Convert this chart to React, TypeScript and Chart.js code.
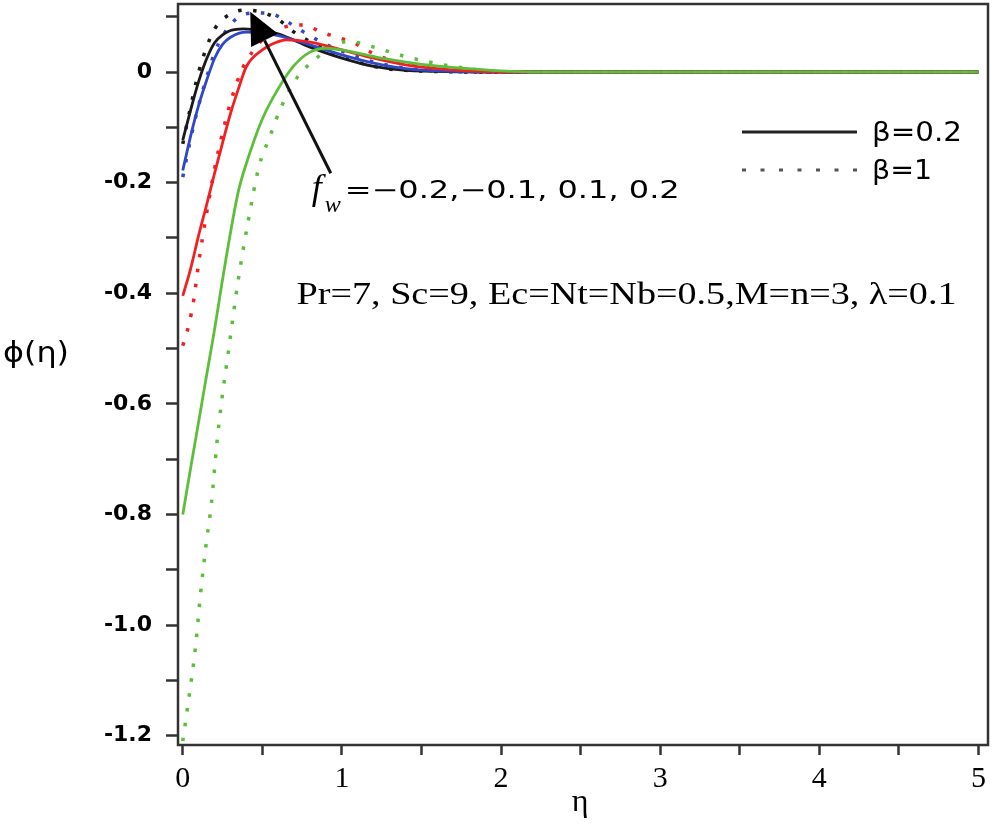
import React, { useEffect, useRef } from "react";
import { Chart, registerables } from "chart.js";

Chart.register(...registerables);

// ---- data: phi(eta) for f_w = -0.2, -0.1, 0.1, 0.2 ; beta = 0.2 (solid) and beta = 1 (dotted)
const etaBlackSolid = [0, 0.05, 0.1, 0.15, 0.2, 0.25, 0.3, 0.38, 0.5, 0.6, 0.8, 1.0, 1.2, 1.4, 2, 3, 4, 5];
const phiBlackSolid = [-0.123, -0.068, -0.017, 0.024, 0.053, 0.067, 0.075, 0.078, 0.075, 0.069, 0.045, 0.025, 0.01, 0.003, 0, 0, 0, 0];

const etaBlackDotted = [0, 0.05, 0.1, 0.15, 0.2, 0.3, 0.39, 0.5, 0.6, 0.7, 0.8, 1.0, 1.2, 1.4, 2, 3, 4, 5];
const phiBlackDotted = [-0.13, -0.062, 0.0, 0.045, 0.078, 0.105, 0.112, 0.108, 0.095, 0.072, 0.055, 0.028, 0.01, 0.003, 0, 0, 0, 0];

const etaBlueSolid = [0, 0.05, 0.1, 0.15, 0.2, 0.25, 0.3, 0.4, 0.5, 0.6, 0.8, 1.0, 1.2, 1.4, 1.6, 2, 3, 4, 5];
const phiBlueSolid = [-0.178, -0.115, -0.06, -0.015, 0.025, 0.05, 0.063, 0.072, 0.071, 0.066, 0.049, 0.031, 0.016, 0.006, 0.002, 0, 0, 0, 0];

const etaBlueDotted = [0, 0.05, 0.1, 0.15, 0.2, 0.25, 0.34, 0.45, 0.56, 0.65, 0.75, 0.9, 1.0, 1.2, 1.4, 1.6, 2, 3, 4, 5];
const phiBlueDotted = [-0.19, -0.12, -0.06, -0.01, 0.035, 0.065, 0.097, 0.107, 0.105, 0.092, 0.074, 0.05, 0.038, 0.018, 0.007, 0.002, 0, 0, 0, 0];

const etaRedSolid = [0, 0.05, 0.1, 0.15, 0.2, 0.25, 0.3, 0.35, 0.4, 0.5, 0.6, 0.65, 0.8, 1.0, 1.2, 1.4, 1.6, 1.8, 2, 3, 4, 5];
const phiRedSolid = [-0.405, -0.355, -0.295, -0.24, -0.183, -0.128, -0.075, -0.03, 0.01, 0.04, 0.055, 0.058, 0.054, 0.04, 0.025, 0.013, 0.006, 0.002, 0, 0, 0, 0];

const etaRedDotted = [0, 0.04, 0.07, 0.1, 0.15, 0.2, 0.25, 0.3, 0.365, 0.4, 0.48, 0.55, 0.635, 0.76, 0.87, 0.97, 1.08, 1.18, 1.3, 1.5, 1.7, 2, 3, 4, 5];
const phiRedDotted = [-0.495, -0.455, -0.41, -0.345, -0.255, -0.175, -0.11, -0.055, 0.0, 0.02, 0.052, 0.07, 0.081, 0.085, 0.072, 0.063, 0.052, 0.036, 0.022, 0.01, 0.003, 0, 0, 0, 0];

const etaGreenSolid = [0, 0.05, 0.1, 0.15, 0.2, 0.25, 0.3, 0.35, 0.4, 0.5, 0.6, 0.7, 0.8, 0.9, 1.0, 1.25, 1.5, 1.75, 2.0, 2.2, 3, 4, 5];
const phiGreenSolid = [-0.8, -0.715, -0.632, -0.548, -0.465, -0.375, -0.29, -0.215, -0.165, -0.085, -0.03, 0.012, 0.036, 0.043, 0.04, 0.025, 0.014, 0.007, 0.002, 0, 0, 0, 0];

const etaGreenDotted = [0, 0.044, 0.08, 0.113, 0.145, 0.18, 0.214, 0.245, 0.283, 0.346, 0.409, 0.478, 0.547, 0.61, 0.7, 0.76, 0.84, 0.95, 1.05, 1.2, 1.4, 1.6, 1.8, 2.05, 3, 4, 5];
const phiGreenDotted = [-1.21, -1.12, -1.04, -0.94, -0.858, -0.78, -0.672, -0.593, -0.513, -0.381, -0.273, -0.172, -0.117, -0.069, -0.018, 0.004, 0.025, 0.05, 0.055, 0.045, 0.028, 0.015, 0.006, 0, 0, 0, 0];

const xTickValues = [0, 0.5, 1, 1.5, 2, 2.5, 3, 3.5, 4, 4.5, 5];
const xTickLabels = ["0", "", "1", "", "2", "", "3", "", "4", "", "5"];
const yTickValues = [-1.2, -1.1, -1.0, -0.9, -0.8, -0.7, -0.6, -0.5, -0.4, -0.3, -0.2, -0.1, 0, 0.1];
const yTickLabels = ["-1.2", "", "-1.0", "", "-0.8", "", "-0.6", "", "-0.4", "", "-0.2", "", "0", ""];

const legendLabels = ["\u03b2=0.2", "\u03b2=1"];
const annotationFw = "=\u22120.2,\u22120.1, 0.1, 0.2";
const annotationParams = "Pr=7, Sc=9, Ec=Nt=Nb=0.5,M=n=3, \u03bb=0.1";
const xTitle = "\u03b7";
const yTitle = "\u03d5(\u03b7)";

const BLACK = "#1a1a1a";
const BLUE = "#3048c8";
const RED = "#f22020";
const GREEN = "#5cbf3a";

const pts = (xs: number[], ys: number[]) => xs.map((x, i) => ({ x, y: ys[i] }));

function fitText(ctx: CanvasRenderingContext2D, text: string, x: number, y: number, font: string, width: number) {
  ctx.save();
  ctx.font = font;
  const w = ctx.measureText(text).width;
  ctx.translate(x, y);
  ctx.scale(width / w, 1);
  ctx.textAlign = "left";
  ctx.textBaseline = "middle";
  ctx.fillText(text, 0, 0);
  ctx.restore();
}

const decorPlugin = {
  id: "decor",
  afterDraw(chart: any) {
    const { ctx, chartArea: ca, scales } = chart;
    const xs = scales.x;
    const ys = scales.y;
    ctx.save();
    // frame
    ctx.strokeStyle = "#333";
    ctx.lineWidth = 2.5;
    ctx.strokeRect(ca.left, ca.top, ca.right - ca.left, ca.bottom - ca.top);

    // arrow (data coordinates)
    const tx = xs.getPixelForValue(0.93), ty = ys.getPixelForValue(-0.183);
    const hx = xs.getPixelForValue(0.424), hy = ys.getPixelForValue(0.109);
    const dx = hx - tx, dy = hy - ty;
    const len = Math.hypot(dx, dy);
    const ux = dx / len, uy = dy / len;
    const headLen = 32, headHalf = 15;
    const bx = hx - ux * headLen, by = hy - uy * headLen;
    ctx.strokeStyle = "#111";
    ctx.lineWidth = 3;
    ctx.beginPath();
    ctx.moveTo(tx, ty);
    ctx.lineTo(bx, by);
    ctx.stroke();
    ctx.fillStyle = "#000";
    ctx.beginPath();
    ctx.moveTo(hx, hy);
    ctx.lineTo(bx - uy * headHalf, by + ux * headHalf);
    ctx.lineTo(bx + uy * headHalf, by - ux * headHalf);
    ctx.closePath();
    ctx.fill();

    // annotation f_w
    ctx.fillStyle = "#000";
    const fx = xs.getPixelForValue(0.81);
    const fy = ys.getPixelForValue(-0.217);
    ctx.font = "italic 36px 'Liberation Serif'";
    ctx.textBaseline = "middle";
    ctx.textAlign = "left";
    ctx.fillText("f", fx, fy - 2);
    ctx.font = "italic 24px 'Liberation Serif'";
    ctx.fillText("w", fx + 13, fy + 14);
    fitText(ctx, annotationFw, fx + 33, fy, "24px 'DejaVu Sans'", 335);

    // parameter text
    const px = xs.getPixelForValue(0.715);
    const py = ys.getPixelForValue(-0.405);
    fitText(ctx, annotationParams, px, py, "32px 'Liberation Serif'", 660);

    // legend
    const lx0 = ca.right - 246, lx1 = ca.right - 131;
    const ly1 = ca.top + 128, ly2 = ca.top + 166;
    ctx.strokeStyle = "#222";
    ctx.lineWidth = 3;
    ctx.beginPath();
    ctx.moveTo(lx0, ly1);
    ctx.lineTo(lx1, ly1);
    ctx.stroke();
    ctx.strokeStyle = "#555";
    ctx.setLineDash([4, 14.5]);
    ctx.beginPath();
    ctx.moveTo(lx0, ly2);
    ctx.lineTo(lx1, ly2);
    ctx.stroke();
    ctx.setLineDash([]);
    ctx.fillStyle = "#000";
    fitText(ctx, legendLabels[0], lx1 + 15, ly1 + 2, "27px 'DejaVu Sans'", 90);
    fitText(ctx, legendLabels[1], lx1 + 15, ly2 + 2, "27px 'DejaVu Sans'", 60);

    // axis titles
    fitText(ctx, yTitle, 3, 355, "28px 'DejaVu Sans'", 66);
    ctx.font = "32px 'Liberation Serif'";
    ctx.textAlign = "center";
    ctx.textBaseline = "middle";
    ctx.fillText(xTitle, (ca.left + ca.right) / 2 - 3, 803);
    ctx.restore();
  },
};

export default function App() {
  const ref = useRef<HTMLCanvasElement | null>(null);
  useEffect(() => {
    if (!ref.current) return;
    const solid = (data: any, color: string) => ({
      data,
      borderColor: color,
      borderWidth: 2.8,
      pointRadius: 0,
      fill: false,
      cubicInterpolationMode: "monotone" as const,
    });
    const dotted = (data: any, color: string) => ({
      data,
      borderColor: color,
      borderWidth: 3.5,
      borderDash: [3.5, 11.5],
      pointRadius: 0,
      fill: false,
      cubicInterpolationMode: "monotone" as const,
    });
    const chart = new Chart(ref.current, {
      type: "line",
      data: {
        datasets: [
          solid(pts(etaGreenSolid, phiGreenSolid), GREEN),
          solid(pts(etaRedSolid, phiRedSolid), RED),
          solid(pts(etaBlueSolid, phiBlueSolid), BLUE),
          solid(pts(etaBlackSolid, phiBlackSolid), BLACK),
          dotted(pts(etaGreenDotted, phiGreenDotted), GREEN),
          dotted(pts(etaRedDotted, phiRedDotted), RED),
          dotted(pts(etaBlueDotted, phiBlueDotted), BLUE),
          dotted(pts(etaBlackDotted, phiBlackDotted), BLACK),
        ],
      },
      options: {
        animation: false,
        responsive: false,
        maintainAspectRatio: false,
        layout: { padding: { left: 0, top: 4, right: 7, bottom: 0 } },
        plugins: { legend: { display: false }, tooltip: { enabled: false } },
        scales: {
          x: {
            type: "linear",
            min: -0.03,
            max: 5.06,
            afterFit: (s: any) => { s.height = 86; s.paddingLeft = 0; s.paddingRight = 0; },
            afterBuildTicks: (s: any) => { s.ticks = xTickValues.map((v) => ({ value: v })); },
            ticks: {
              autoSkip: false,
              maxRotation: 0,
              padding: 6,
              color: "#000",
              font: { family: "'Liberation Serif'", size: 30 },
              callback: (v: any, i: number) => xTickLabels[i],
            },
            grid: { display: true, drawOnChartArea: false, drawTicks: true, tickLength: 10, tickColor: "#333", tickWidth: 2.5 },
            border: { display: false },
          },
          y: {
            type: "linear",
            min: -1.217,
            max: 0.123,
            afterFit: (s: any) => { s.width = 178; s.paddingTop = 0; s.paddingBottom = 0; },
            afterBuildTicks: (s: any) => { s.ticks = yTickValues.map((v) => ({ value: v })); },
            ticks: {
              autoSkip: false,
              padding: 14,
              color: "#000",
              font: { family: "'DejaVu Sans'", size: 22, weight: "bold" },
              callback: (v: any, i: number) => yTickLabels[i],
            },
            grid: { display: true, drawOnChartArea: false, drawTicks: true, tickLength: 12, tickColor: "#333", tickWidth: 2.5 },
            border: { display: false },
          },
        },
      },
      plugins: [decorPlugin],
    });
    return () => chart.destroy();
  }, []);
  return (
    <div style={{ position: "absolute", left: 0, top: 0, width: 995, height: 831, background: "#fff" }}>
      <canvas ref={ref} width={995} height={831} style={{ width: 995, height: 831, display: "block" }} />
    </div>
  );
}
